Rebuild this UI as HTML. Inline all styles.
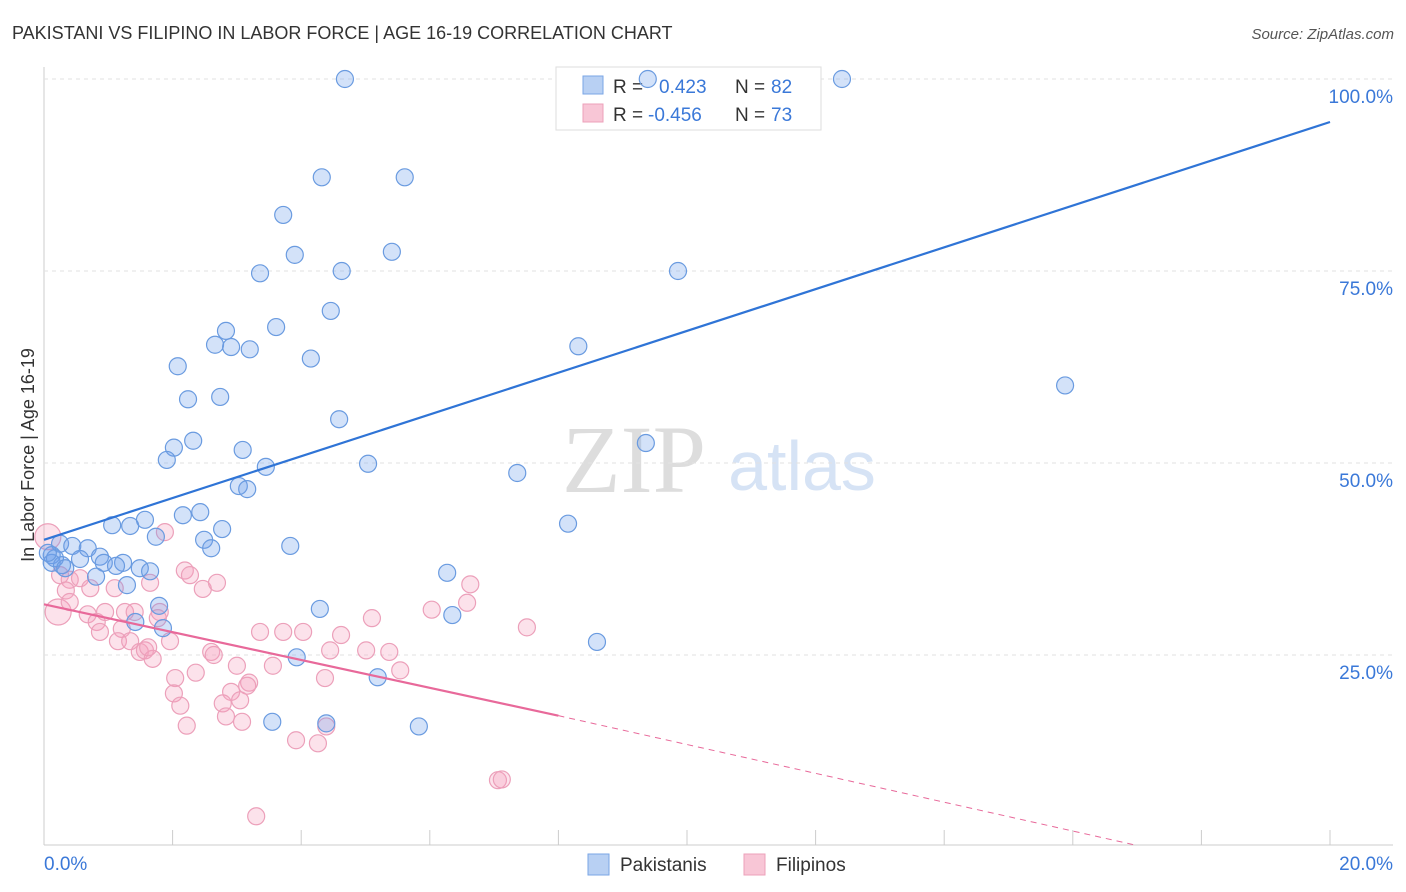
<!DOCTYPE html>
<html><head><meta charset="utf-8">
<style>
body{margin:0;background:#fff;font-family:"Liberation Sans",sans-serif;}
svg{display:block}
</style></head>
<body>
<svg id="chart" width="1406" height="892" xmlns="http://www.w3.org/2000/svg">
<text x="12" y="39" font-size="18" fill="#333">PAKISTANI VS FILIPINO IN LABOR FORCE | AGE 16-19 CORRELATION CHART</text>
<text x="1394" y="39" font-size="15" fill="#555" font-style="italic" text-anchor="end">Source: ZipAtlas.com</text>
<text x="634" y="492" font-size="96" fill="#ddd" text-anchor="middle" font-family="Liberation Serif,serif">ZIP</text>
<text x="802" y="490" font-size="70" fill="#d6e3f5" text-anchor="middle">atlas</text>
<text transform="translate(34,455) rotate(-90)" font-size="18" fill="#333" text-anchor="middle">In Labor Force | Age 16-19</text>
<g id="grid"></g>
<g>
<rect x="556" y="67" width="265" height="63" fill="#fff" stroke="#ddd"/>
<rect x="583" y="76" width="20" height="18" fill="#b8d0f3" stroke="#7aa6e6"/>
<rect x="583" y="104" width="20" height="18" fill="#f8c6d6" stroke="#eca0ba"/>
<text x="613" y="93" font-size="19" fill="#333">R = <tspan x="659" fill="#3a78d8">0.423</tspan><tspan x="735" fill="#333">N = </tspan><tspan x="771" fill="#3a78d8">82</tspan></text>
<text x="613" y="121" font-size="19" fill="#333">R = <tspan x="648" fill="#3a78d8">-0.456</tspan><tspan x="735" fill="#333">N = </tspan><tspan x="771" fill="#3a78d8">73</tspan></text>
</g>
<g id="pts"></g><g id="lines"></g>
<rect x="588" y="854" width="21" height="21" fill="#b8d0f3" stroke="#7aa6e6"/>
<text x="620" y="871" font-size="19" fill="#333">Pakistanis</text>
<rect x="744" y="854" width="21" height="21" fill="#f8c6d6" stroke="#eca0ba"/>
<text x="776" y="871" font-size="19" fill="#333">Filipinos</text>
</svg>
<script>
const yTicks=[25,50,75,100];
const xTickVals=[2,4,6,8,10,12,14,16,18,20];
const pakX=[4.68,9.39,12.41,4.32,5.61,3.72,3.9,5.41,3.36,4.63,9.86,3.61,4.46,2.83,2.66,2.91,3.2,4.15,8.31,15.88,2.08,2.24,2.74,4.59,2.32,2.02,1.91,3.09,9.36,3.45,3.03,3.16,5.04,7.36,2.16,2.43,1.57,1.06,1.34,2.77,1.74,8.15,2.49,2.6,3.83,0.25,0.44,0.68,0.12,0.56,0.87,0.93,1.23,1.12,1.49,1.65,0.12,0.28,0.81,1.29,1.79,1.42,1.85,6.27,4.29,6.35,8.6,3.93,5.19,3.55,4.39,5.83,0.17,0.33,0.06];
const pakY=[100,100,100,87.2,87.2,82.3,77.1,77.5,74.7,75,75,67.7,69.8,67.2,65.4,65.1,64.8,63.6,65.2,60.1,62.6,58.3,58.6,55.7,52.9,52,50.4,51.7,52.6,49.5,47,46.6,49.9,48.7,43.2,43.6,42.6,41.9,41.8,41.4,40.4,42.1,40,38.9,39.2,39.5,39.2,38.9,38,37.5,37.8,37,37,36.6,36.3,35.9,37,36.7,35.2,34.1,31.4,29.3,28.5,35.7,31,30.2,26.7,24.7,22.1,16.3,16.1,15.7,37.6,36.3,38.3];
const filX=[0.06,0.22,1.88,0.25,0.4,0.56,0.34,0.72,1.1,0.4,0.68,0.82,0.87,0.95,1.26,1.41,1.21,1.15,1.34,1.8,1.65,2.19,2.27,2.47,2.69,1.77,1.96,1.49,1.57,1.69,2.6,2.64,3.0,2.36,2.04,2.02,2.12,2.91,3.19,3.16,2.78,3.05,2.83,3.08,2.22,3.56,3.36,3.72,4.03,4.62,4.45,5.01,5.37,5.54,4.37,5.1,6.03,6.58,6.63,7.51,3.92,4.26,4.39,3.3,7.06,7.12,1.62];
const filY=[40.4,30.6,41.0,35.4,34.8,35.0,33.4,33.7,33.7,31.9,30.3,29.3,28.0,30.6,30.6,30.6,28.4,26.8,26.8,30.6,34.4,36.0,35.4,33.6,34.4,29.8,26.8,25.4,25.6,24.5,25.4,25.0,23.6,22.7,22.0,20.0,18.4,20.2,21.4,21.0,18.7,19.1,17.0,16.3,15.8,23.6,28.0,28.0,28.0,27.6,25.6,25.6,25.4,23.0,22.0,29.8,30.9,31.8,34.2,28.6,13.9,13.5,15.7,4.0,8.7,8.8,26.0];
const pakLine=[40.0,94.4];
const filLine=[31.6,17.1,0.2];
const X=v=>44+v*64.3, Y=v=>847-v*7.68;
const NS="http://www.w3.org/2000/svg";
function mk(tag,attrs,parent){const e=document.createElementNS(NS,tag);for(const k in attrs)e.setAttribute(k,attrs[k]);parent.appendChild(e);return e;}
const grid=document.getElementById('grid');
const ax=mk('line',{x1:44,y1:67,x2:44,y2:845,stroke:'#ccc'},grid);


const bx=mk('line',{x1:44,y1:845,x2:1393,y2:845,stroke:'#ccc'},grid);


yTicks.forEach(t=>{
 const g=mk('line',{x1:44,y1:Y(t),x2:1393,y2:Y(t),stroke:'#e2e2e2','stroke-dasharray':'4,4'},grid);
 
 
 const l=mk('text',{x:1393,y:Y(t)+24,'font-size':19,fill:'#3a78d8','text-anchor':'end'},grid);
 l.textContent=t.toFixed(1)+'%';
 
 
});
xTickVals.forEach(t=>{
 const k=mk('line',{x1:X(t),y1:830,x2:X(t),y2:845,stroke:'#ccc'},grid);
 
 
});
const x0=mk('text',{x:44,y:870,'font-size':19,fill:'#3a78d8'},grid);x0.textContent='0.0%';


const x1=mk('text',{x:1393,y:870,'font-size':19,fill:'#3a78d8','text-anchor':'end'},grid);x1.textContent='20.0%';


const pts=document.getElementById('pts');
filX.forEach((v,i)=>{
 const r=(i<2)?13:8.5;
 const c=mk('circle',{cx:X(v),cy:Y(filY[i]),r:r,fill:'rgba(244,160,190,0.3)',stroke:'#eca0ba','stroke-width':1.2},pts);
 
 
});
pakX.forEach((v,i)=>{
 const c=mk('circle',{cx:X(v),cy:Y(pakY[i]),r:8.5,fill:'rgba(110,160,235,0.3)',stroke:'#6a9be0','stroke-width':1.2},pts);
 
 
});
const lines=document.getElementById('lines');
const bl=mk('line',{x1:X(0),y1:Y(pakLine[0]),x2:X(20),y2:Y(pakLine[1]),stroke:'#2f74d6','stroke-width':2.2},lines);


const pl=mk('line',{x1:X(0),y1:Y(filLine[0]),x2:X(8),y2:Y(filLine[1]),stroke:'#e8699a','stroke-width':2.2},lines);


const pd=mk('line',{x1:X(8),y1:Y(filLine[1]),x2:X(17),y2:Y(filLine[2]),stroke:'#e8699a','stroke-width':1,'stroke-dasharray':'6,5'},lines);


</script>
</body></html>
